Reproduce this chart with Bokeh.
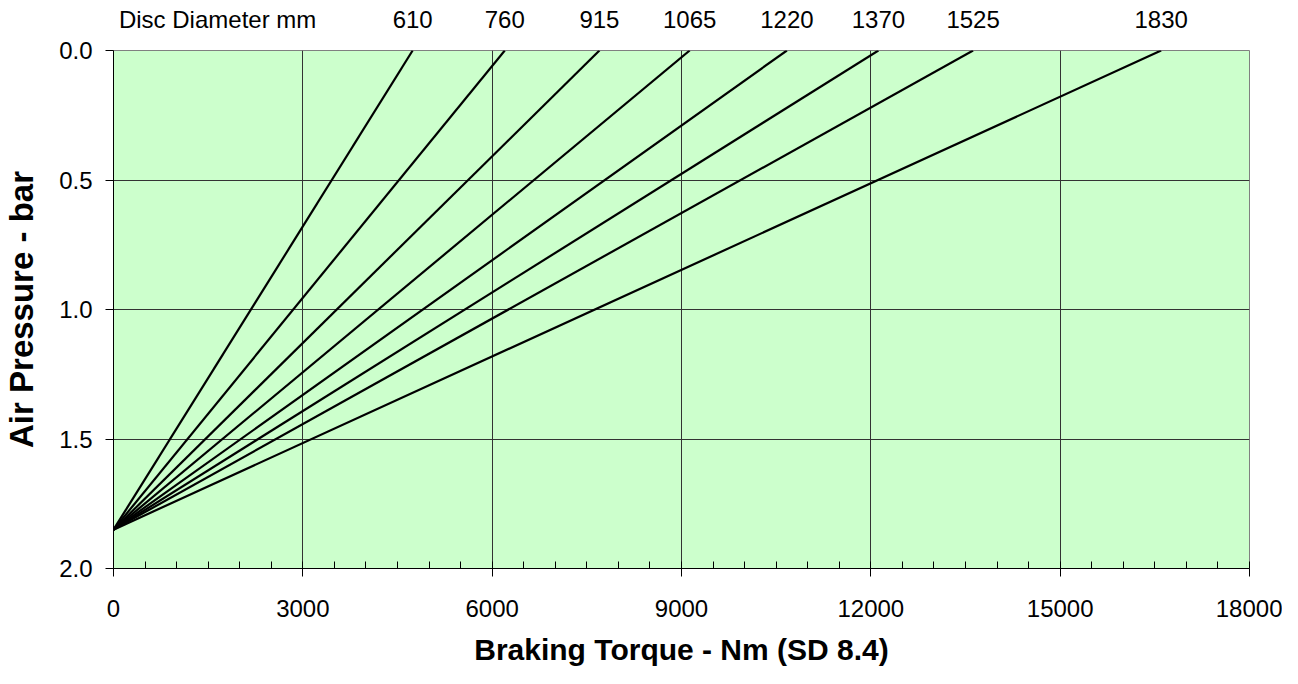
from bokeh.plotting import figure
from bokeh.models import (Range1d, FixedTicker, LinearAxis, NumeralTickFormatter)
from bokeh.embed import file_html
from bokeh.resources import INLINE

# ---- data ----
diameters = ["610", "760", "915", "1065", "1220", "1370", "1525", "1830"]
end_torque = [4740, 6200, 7700, 9130, 10670, 12120, 13620, 16600]   # Nm at 0.0 bar
release_pressure = 1.85                                              # bar at 0 Nm
x_ticks = [0, 3000, 6000, 9000, 12000, 15000, 18000]
x_minor_step = 500
y_ticks = [0.0, 0.5, 1.0, 1.5, 2.0]
header_text = "Disc Diameter mm"
header_pos = 1650          # x position (Nm) where the header text is centred

FONT = "Liberation Sans"

p = figure(width=1282, height=668, output_backend="svg", toolbar_location=None,
           x_range=Range1d(x_ticks[0], x_ticks[-1]),
           y_range=Range1d(y_ticks[-1], y_ticks[0]),
           min_border_left=110, min_border_right=33,
           min_border_top=50, min_border_bottom=99)

p.background_fill_color = "#CCFFCC"
p.border_fill_color = "white"
p.outline_line_color = "#808080"
p.outline_line_width = 1

# grid
p.xgrid.ticker = FixedTicker(ticks=x_ticks[1:-1])
p.ygrid.ticker = FixedTicker(ticks=y_ticks[1:-1])
for g in (p.xgrid, p.ygrid):
    g.grid_line_color = "#333333"
    g.grid_line_width = 1

# x axis
xa = p.xaxis[0]
xa.ticker = FixedTicker(ticks=x_ticks,
                        minor_ticks=list(range(x_ticks[0], x_ticks[-1] + 1, x_minor_step)))
xa.formatter = NumeralTickFormatter(format="0")
xa.axis_line_color = "black"
xa.major_tick_line_color = "black"
xa.minor_tick_line_color = "black"
xa.major_tick_in = 0
xa.major_tick_out = 8
xa.minor_tick_in = 7
xa.minor_tick_out = 0
xa.major_label_text_font = FONT
xa.major_label_text_font_size = "24px"
xa.major_label_text_color = "black"
xa.major_label_standoff = 23
xa.axis_label = "Braking Torque - Nm (SD 8.4)"
xa.axis_label_text_font = FONT
xa.axis_label_text_font_style = "bold"
xa.axis_label_text_font_size = "30px"
xa.axis_label_text_color = "black"
xa.axis_label_standoff = 13

# y axis
ya = p.yaxis[0]
ya.ticker = FixedTicker(ticks=y_ticks)
ya.formatter = NumeralTickFormatter(format="0.0")
ya.axis_line_color = "black"
ya.major_tick_line_color = "black"
ya.minor_tick_line_color = None
ya.major_tick_in = 0
ya.major_tick_out = 8
ya.major_label_text_font = FONT
ya.major_label_text_font_size = "24px"
ya.major_label_text_color = "black"
ya.major_label_standoff = 13
ya.axis_label = "Air Pressure - bar"
ya.axis_label_text_font = FONT
ya.axis_label_text_font_style = "bold"
ya.axis_label_text_font_size = "33px"
ya.axis_label_text_color = "black"
ya.axis_label_standoff = 16

# top axis carrying the disc diameter labels at each line's end torque
top = LinearAxis(ticker=FixedTicker(ticks=[header_pos] + end_torque))
top.major_label_overrides = {header_pos: header_text,
                             **{t: d for t, d in zip(end_torque, diameters)}}
top.axis_line_color = None
top.major_tick_line_color = None
top.minor_tick_line_color = None
top.major_tick_out = 0
top.major_tick_in = 0
top.major_label_text_font = FONT
top.major_label_text_font_size = "24px"
top.major_label_text_color = "black"
top.major_label_standoff = 18
p.add_layout(top, "above")

# lines: from (0, release pressure) to (end torque, 0 bar)
xs = [[0, t] for t in end_torque]
ys = [[release_pressure, 0.0] for _ in end_torque]
p.multi_line(xs=xs, ys=ys, line_color="black", line_width=2.2)

open("out.html", "w").write(file_html(p, INLINE))
